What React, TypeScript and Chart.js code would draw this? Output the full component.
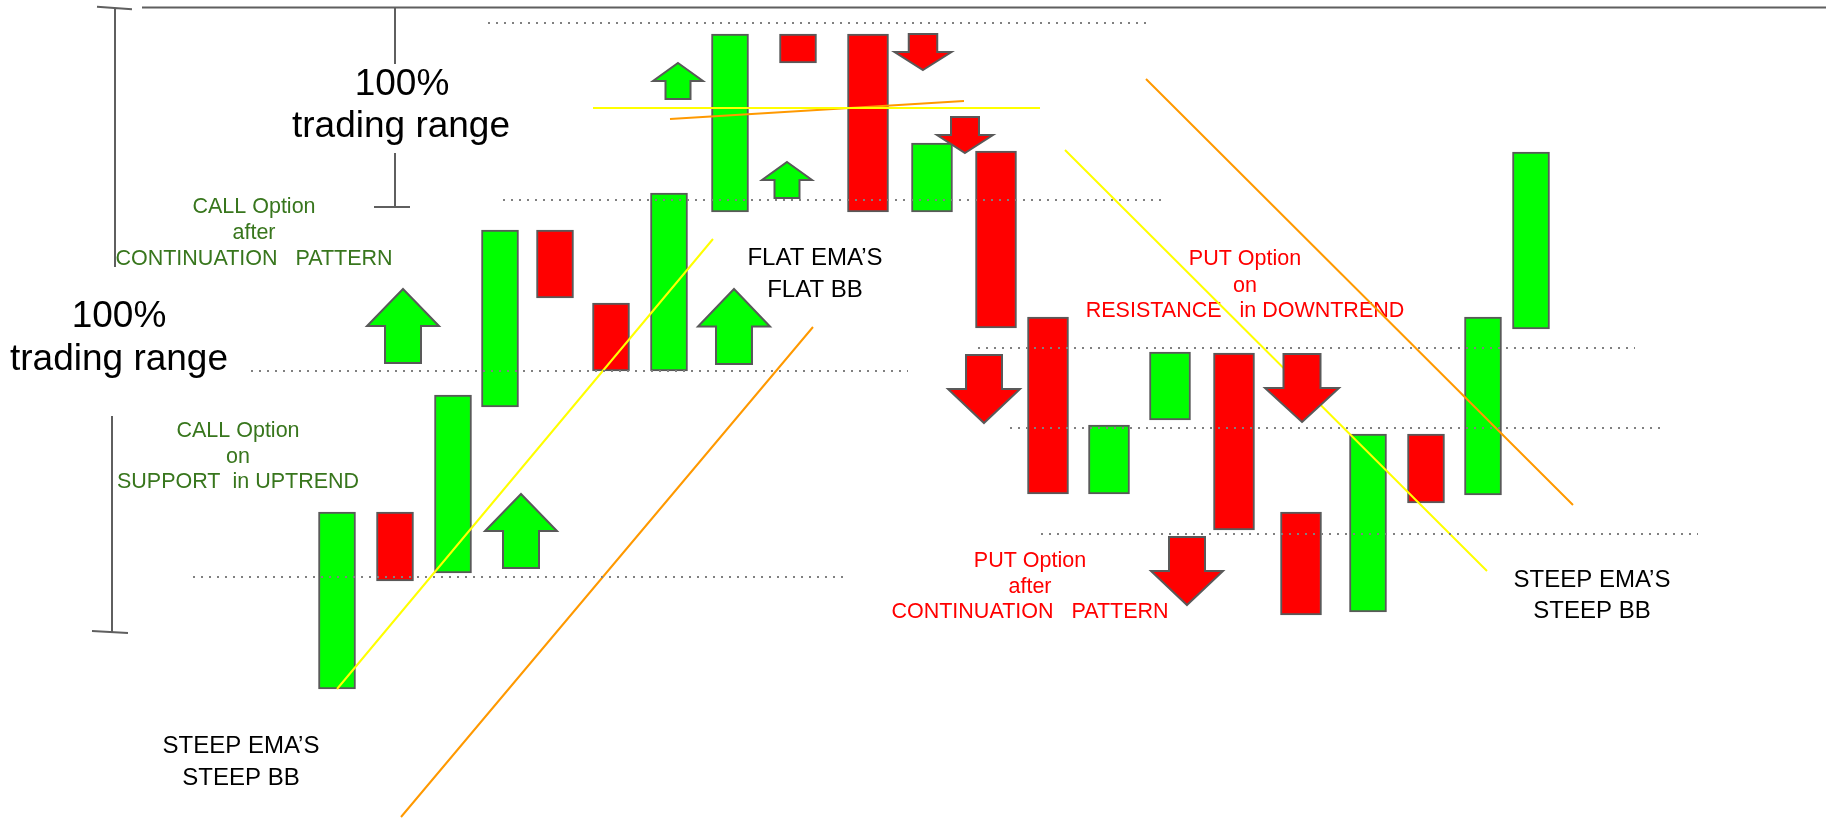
import { useEffect, useRef } from 'react';
import { Chart, registerables } from 'chart.js';

Chart.register(...registerables);

// ---- candles: time position, open and close price ----
const candleTime = [337, 395, 453, 500, 555, 611, 669, 730, 798, 868, 932, 996, 1048, 1109, 1170, 1234, 1301, 1368, 1426, 1483, 1531];
const candleOpen = [132, 309, 248, 414, 591, 518, 450, 609, 787, 787, 609, 670, 504, 327, 401, 468, 309, 209, 387, 326, 492];
const candleClose = [309, 240, 426, 591, 523, 450, 628, 787, 758, 609, 678, 493, 327, 396, 469, 291, 206, 387, 318, 504, 669];

// ---- dotted support / resistance levels ----
const levelStart = [488, 503, 251, 193, 978, 1010, 1041];
const levelEnd = [1146, 1161, 908, 849, 1635, 1666, 1698];
const levelPrice = [798, 621, 450, 244, 473, 393, 287];

// ---- yellow trend lines ----
const yellowStartT = [337, 593, 1065];
const yellowStartP = [132, 713, 671];
const yellowEndT = [713, 1040, 1487];
const yellowEndP = [582, 713, 250];

// ---- orange trend lines ----
const orangeStartT = [401, 670, 1146];
const orangeStartP = [4, 702, 742];
const orangeEndT = [813, 964, 1573];
const orangeEndP = [494, 720, 316];

// ---- trading range brackets ----
const bracketStartT = [142, 97, 115, 112, 92, 395, 395, 374];
const bracketStartP = [813.5, 814.3, 813.5, 405, 190, 813.5, 668, 614];
const bracketEndT = [1826, 132, 115, 112, 128, 395, 395, 410];
const bracketEndP = [813.5, 811.7, 554, 189, 188, 757, 614, 614];

// ---- signal arrows: position, tail price, tip price, half width ----
const arrowT = [403, 521, 678, 787, 734, 923, 965, 984, 1302, 1187];
const arrowTail = [458, 253, 722, 623, 457, 787, 704, 466, 467, 284];
const arrowTip = [532, 327, 758, 659, 532, 751, 668, 398, 399, 216];
const arrowHalf = [36, 36, 25, 25, 36, 28.5, 28, 36, 37, 36];

// ---- annotations ----
const noteText = [
  '100%', 'trading range',
  '100%', 'trading range',
  'CALL Option', 'after', 'CONTINUATION   PATTERN',
  'CALL Option', 'on', 'SUPPORT  in UPTREND',
  'STEEP EMA\u2019S', 'STEEP BB',
  'FLAT EMA\u2019S', 'FLAT BB',
  'STEEP EMA\u2019S', 'STEEP BB',
  'PUT Option', 'on', 'RESISTANCE   in DOWNTREND',
  'PUT Option', 'after', 'CONTINUATION   PATTERN',
];
const noteT = [402, 401, 119, 119, 254, 254, 254, 238, 238, 238, 241, 241, 815, 815, 1592, 1592, 1245, 1245, 1245, 1030, 1030, 1030];
const noteP = [726, 684, 494, 451, 608, 582, 556, 384, 358, 333, 68, 36, 556, 524, 234, 203, 556, 529, 504, 254, 228, 203];
const noteKind = ['big', 'big', 'big', 'big', 'call', 'call', 'call', 'call', 'call', 'call', 'label', 'label', 'label', 'label', 'label', 'label', 'put', 'put', 'put', 'put', 'put', 'put'];

const GREEN = '#00ff00';
const RED = '#ff0000';
const EDGE = '#595959';
const FONT = '"Liberation Sans", Arial, Helvetica, sans-serif';
const NOTE_STYLE: Record<string, { size: number; color: string }> = {
  big: { size: 37, color: '#000000' },
  label: { size: 24, color: '#000000' },
  call: { size: 21.5, color: '#38761d' },
  put: { size: 21.5, color: '#ff0000' },
};
const WIDE_FROM = 9;
const WIDE_TO = 16;

function segments(t1: number[], p1: number[], t2: number[], p2: number[]) {
  const out: { x: number; y: number | null }[] = [];
  for (let i = 0; i < t1.length; i++) {
    if (i > 0) out.push({ x: t1[i], y: null });
    out.push({ x: t1[i], y: p1[i] });
    out.push({ x: t2[i], y: p2[i] });
  }
  return out;
}

function candles(wide: boolean) {
  const out: any[] = [];
  for (let i = 0; i < candleTime.length; i++) {
    const isWide = i >= WIDE_FROM && i <= WIDE_TO;
    if (isWide !== wide) continue;
    out.push({ x: candleTime[i], y: [candleOpen[i], candleClose[i]], o: candleOpen[i], c: candleClose[i] });
  }
  return out;
}

const notesPlugin = {
  id: 'notes',
  beforeDatasetsDraw(chart: any) {
    const { ctx, scales } = chart;
    ctx.save();
    ctx.textAlign = 'center';
    ctx.textBaseline = 'alphabetic';
    for (let i = 0; i < noteText.length; i++) {
      const st = NOTE_STYLE[noteKind[i]];
      ctx.font = `${st.size}px ${FONT}`;
      ctx.fillStyle = st.color;
      ctx.fillText(noteText[i], scales.x.getPixelForValue(noteT[i]), scales.y.getPixelForValue(noteP[i]));
    }
    ctx.restore();
  },
};

const arrowsPlugin = {
  id: 'arrows',
  afterDatasetsDraw(chart: any) {
    const { ctx, scales } = chart;
    const xs = scales.x;
    const ys = scales.y;
    ctx.save();
    ctx.lineWidth = 2;
    ctx.lineJoin = 'miter';
    ctx.strokeStyle = EDGE;
    for (let i = 0; i < arrowT.length; i++) {
      const up = arrowTip[i] > arrowTail[i];
      const cx = xs.getPixelForValue(arrowT[i]);
      const hw = xs.getPixelForValue(arrowT[i] + arrowHalf[i]) - cx;
      const sw = hw / 2;
      const tip = ys.getPixelForValue(arrowTip[i]);
      const tail = ys.getPixelForValue(arrowTail[i]);
      const base = (tip + tail) / 2;
      ctx.beginPath();
      ctx.moveTo(cx, tip);
      ctx.lineTo(cx + hw, base);
      ctx.lineTo(cx + sw, base);
      ctx.lineTo(cx + sw, tail);
      ctx.lineTo(cx - sw, tail);
      ctx.lineTo(cx - sw, base);
      ctx.lineTo(cx - hw, base);
      ctx.closePath();
      ctx.fillStyle = up ? GREEN : RED;
      ctx.fill();
      ctx.stroke();
    }
    ctx.restore();
  },
};

export default function App() {
  const ref = useRef<HTMLCanvasElement | null>(null);

  useEffect(() => {
    if (!ref.current) return;
    const lineBase = {
      type: 'line' as const,
      pointRadius: 0,
      pointHoverRadius: 0,
      tension: 0,
      fill: false,
      spanGaps: false,
      borderWidth: 2,
    };
    const barBase = {
      type: 'bar' as const,
      grouped: false,
      borderWidth: 2,
      borderColor: EDGE,
      borderSkipped: false,
      order: 10,
      backgroundColor: (c: any) => (c.raw && c.raw.c >= c.raw.o ? GREEN : RED),
    };
    const chart = new Chart(ref.current, {
      type: 'bar',
      data: {
        datasets: [
          { ...barBase, label: 'candles', data: candles(false), barThickness: 37 } as any,
          { ...barBase, label: 'candles wide', data: candles(true), barThickness: 41 } as any,
          { ...lineBase, label: 'yellow', data: segments(yellowStartT, yellowStartP, yellowEndT, yellowEndP), borderColor: '#ffff00', order: 5 } as any,
          { ...lineBase, label: 'orange', data: segments(orangeStartT, orangeStartP, orangeEndT, orangeEndP), borderColor: '#ff9900', order: 5 } as any,
          { ...lineBase, label: 'levels', data: segments(levelStart, levelPrice, levelEnd, levelPrice), borderColor: '#808080', borderDash: [2, 6], borderCapStyle: 'butt', order: 1 } as any,
          { ...lineBase, label: 'brackets', data: segments(bracketStartT, bracketStartP, bracketEndT, bracketEndP), borderColor: '#5f5f5f', order: 1 } as any,
        ],
      },
      options: {
        animation: false,
        responsive: false,
        events: [],
        layout: { padding: 0 },
        plugins: { legend: { display: false }, tooltip: { enabled: false } },
        scales: {
          x: { type: 'linear', min: 0, max: 1826, display: false, offset: false },
          y: { type: 'linear', min: 0, max: 821, display: false },
        },
      },
      plugins: [notesPlugin, arrowsPlugin],
    });
    return () => chart.destroy();
  }, []);

  return (
    <div style={{ position: 'fixed', left: 0, top: 0, width: 1826, height: 821, background: '#ffffff' }}>
      <canvas ref={ref} width={1826} height={821} style={{ display: 'block' }} />
    </div>
  );
}
